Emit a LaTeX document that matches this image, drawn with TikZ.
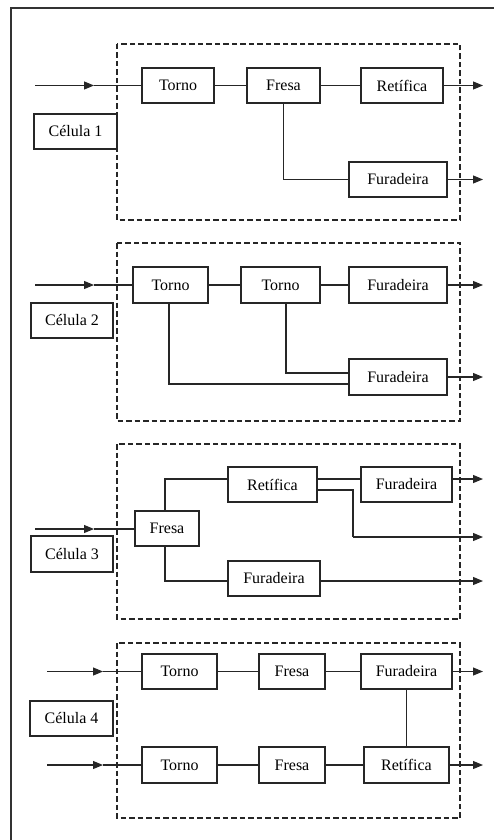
\documentclass[tikz,border=0pt]{standalone}
\usepackage{fontspec}
\setmainfont{Liberation Serif}
\usetikzlibrary{arrows.meta,calc}
\begin{document}
\begin{tikzpicture}[x=1pt,y=-1pt,
  box/.style={draw=black!85, line width=1.1pt, minimum height=35pt, inner sep=0pt, fill=white,
    font=\fontsize{16}{18}\selectfont},
  cellbox/.style={draw=black!85, dash pattern=on 5.5pt off 3pt, line width=1.1pt},
  link/.style={draw=black!85, line width=1.1pt},
  arr/.style={draw=black!85, line width=1.1pt, -{Triangle[length=10pt,width=8pt]}},
  frame/.style={draw=black!80, line width=1.4pt}
]
\useasboundingbox (0,0) rectangle (494,840);
\draw[frame] (11,840) -- (11,8) -- (494,8);

% ---------------- Cell 1
\draw[cellbox] (117,44) rectangle (460,220);
\node[box, minimum width=72pt] (t1a) at (178,85.5) {Torno};
\node[box, minimum width=73pt] (f1a) at (283.5,85.5) {Fresa};
\node[box, minimum width=82pt] (r1a) at (402,85.5) {Retífica};
\node[box, minimum width=98pt] (u1a) at (398,179.5) {Furadeira};
\node[box, minimum width=83pt] (c1) at (75.5,131.5) {Célula 1};
\coordinate (i1) at (35,85.5);
\coordinate (p1) at (94,85.5);
\coordinate (o1a) at (483,85.5);
\coordinate (o1b) at (483,179.5);
\draw[arr] (i1) -- (p1);
\draw[link] (p1) -- (t1a);
\draw[link] (t1a) -- (f1a);
\draw[link] (f1a) -- (r1a);
\draw[arr] (r1a.east) -- (o1a);
\draw[link] (f1a.south) |- (u1a.west);
\draw[arr] (u1a.east) -- (o1b);

% ---------------- Cell 2
\draw[cellbox] (117,243) rectangle (460,421);
\node[box, minimum width=75pt, minimum height=36pt] (t2a) at (170.5,285) {Torno};
\node[box, minimum width=79pt, minimum height=36pt] (t2b) at (280.5,285) {Torno};
\node[box, minimum width=98pt, minimum height=36pt] (u2a) at (398,285) {Furadeira};
\node[box, minimum width=98pt, minimum height=36pt] (u2b) at (398,377) {Furadeira};
\node[box, minimum width=82pt] (c2) at (72,320.5) {Célula 2};
\coordinate (i2) at (35,285);
\coordinate (p2) at (94,285);
\coordinate (o2a) at (483,285);
\coordinate (o2b) at (483,377);
\draw[arr] (i2) -- (p2);
\draw[link] (p2) -- (t2a);
\draw[link] (t2a) -- (t2b);
\draw[link] (t2b) -- (u2a);
\draw[arr] (u2a.east) -- (o2a);
\draw[link] ($(t2b.south)+(5.5,0)$) |- ($(u2b.west)+(0,-4)$);
\draw[link] ($(t2a.south)+(-1.5,0)$) |- ($(u2b.west)+(0,7)$);
\draw[arr] (u2b.east) -- (o2b);

% ---------------- Cell 3
\draw[cellbox] (117,444) rectangle (460,619);
\node[box, minimum width=64pt] (f3) at (167,528.5) {Fresa};
\node[box, minimum width=89pt] (r3) at (272.5,484.5) {Retífica};
\node[box, minimum width=91pt] (u3a) at (406.5,484.5) {Furadeira};
\node[box, minimum width=92pt] (u3b) at (274,578.5) {Furadeira};
\node[box, minimum width=82pt, minimum height=36pt] (c3) at (72,554) {Célula 3};
\coordinate (i3) at (35,529);
\coordinate (p3) at (94,529);
\coordinate (b3) at (353,537);
\coordinate (o3a) at (483,479);
\coordinate (o3b) at (483,537);
\coordinate (o3c) at (483,581);
\draw[arr] (i3) -- (p3);
\draw[link] (p3) -- (p3 -| f3.west);
\draw[link] ($(f3.north)+(-2,0)$) |- ($(r3.west)+(0,-5.5)$);
\draw[link] ($(r3.east)+(0,-5.5)$) -- ($(u3a.west)+(0,-5.5)$);
\draw[arr] ($(u3a.east)+(0,-5.5)$) -- (o3a);
\draw[link] ($(r3.east)+(0,5.5)$) -| (b3);
\draw[arr] (b3) -- (o3b);
\draw[link] ($(f3.south)+(-2,0)$) |- ($(u3b.west)+(0,2.5)$);
\draw[arr] ($(u3b.east)+(0,2.5)$) -- (o3c);

% ---------------- Cell 4
\draw[cellbox] (117,643) rectangle (460,818);
\node[box, minimum width=75pt] (t4a) at (179.5,671.5) {Torno};
\node[box, minimum width=66pt] (f4a) at (292,671.5) {Fresa};
\node[box, minimum width=91pt] (u4a) at (406.5,671.5) {Furadeira};
\node[box, minimum width=75pt, minimum height=36pt] (t4b) at (179.5,765) {Torno};
\node[box, minimum width=66pt, minimum height=36pt] (f4b) at (292,765) {Fresa};
\node[box, minimum width=85pt, minimum height=36pt] (r4b) at (406.5,765) {Retífica};
\node[box, minimum width=83pt] (c4) at (71.5,718.5) {Célula 4};
\coordinate (i4a) at (47,671.5);
\coordinate (p4a) at (103,671.5);
\coordinate (i4b) at (47,765);
\coordinate (p4b) at (103,765);
\coordinate (o4a) at (483,671.5);
\coordinate (o4b) at (483,765);
\draw[arr] (i4a) -- (p4a);
\draw[link] (p4a) -- (t4a);
\draw[link] (t4a) -- (f4a);
\draw[link] (f4a) -- (u4a);
\draw[arr] (u4a.east) -- (o4a);
\draw[arr] (i4b) -- (p4b);
\draw[link] (p4b) -- (t4b);
\draw[link] (t4b) -- (f4b);
\draw[link] (f4b) -- (r4b);
\draw[arr] (r4b.east) -- (o4b);
\draw[link] (u4a) -- (r4b);
\end{tikzpicture}
\end{document}
